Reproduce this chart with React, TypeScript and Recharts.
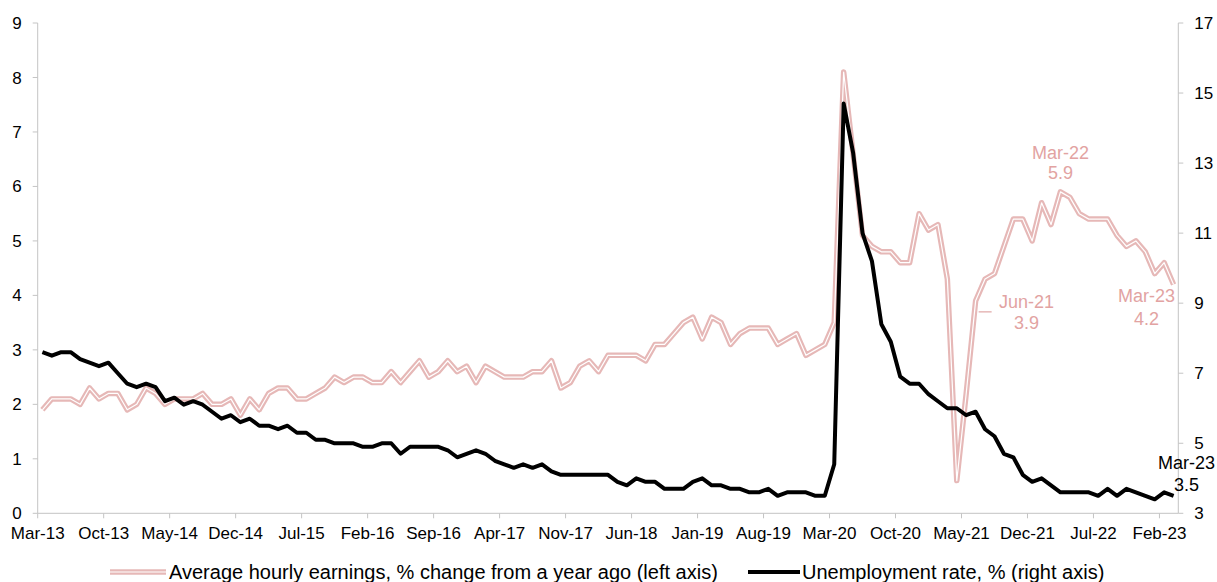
import React from 'react';
import { LineChart, Line, XAxis, YAxis, LabelList } from 'recharts';

const monthAbbr = ['Jan', 'Feb', 'Mar', 'Apr', 'May', 'Jun', 'Jul', 'Aug', 'Sep', 'Oct', 'Nov', 'Dec'];
// Monthly categories Mar-13 .. Mar-23
const months: string[] = [];
for (let y = 2013; y <= 2023; y++) {
  for (let m = 0; m < 12; m++) {
    if ((y === 2013 && m < 2) || (y === 2023 && m > 2)) continue;
    months.push(`${monthAbbr[m]}-${String(y).slice(2)}`);
  }
}

// Average hourly earnings, % change from a year ago (left axis)
const earnings: number[] = [
  1.9, 2.1, 2.1, 2.1, 2.0, 2.3, 2.1, 2.2, 2.2, 1.9, 2.0, 2.3,
  2.2, 2.0, 2.1, 2.1, 2.1, 2.2, 2.0, 2.0, 2.1, 1.8, 2.1, 1.9,
  2.2, 2.3, 2.3, 2.1, 2.1, 2.2, 2.3, 2.5, 2.4, 2.5, 2.5, 2.4,
  2.4, 2.6, 2.4, 2.6, 2.8, 2.5, 2.6, 2.8, 2.6, 2.7, 2.4, 2.7,
  2.6, 2.5, 2.5, 2.5, 2.6, 2.6, 2.8, 2.3, 2.4, 2.7, 2.8, 2.6,
  2.9, 2.9, 2.9, 2.9, 2.8, 3.1, 3.1, 3.3, 3.5, 3.6, 3.2, 3.6,
  3.5, 3.1, 3.3, 3.4, 3.4, 3.4, 3.1, 3.2, 3.3, 2.9, 3.0, 3.1,
  3.5, 8.1, 6.6, 5.1, 4.9, 4.8, 4.8, 4.6, 4.6, 5.5, 5.2, 5.3,
  4.3, 0.6, 2.2, 3.9, 4.3, 4.4, 4.9, 5.4, 5.4, 5.0, 5.7, 5.3,
  5.9, 5.8, 5.5, 5.4, 5.4, 5.4, 5.1, 4.9, 5.0, 4.8, 4.4, 4.6,
  4.2,
];

// Unemployment rate, % (right axis)
const unemployment: number[] = [
  7.6, 7.5, 7.6, 7.6, 7.4, 7.3, 7.2, 7.3, 7.0, 6.7, 6.6, 6.7,
  6.6, 6.2, 6.3, 6.1, 6.2, 6.1, 5.9, 5.7, 5.8, 5.6, 5.7, 5.5,
  5.5, 5.4, 5.5, 5.3, 5.3, 5.1, 5.1, 5.0, 5.0, 5.0, 4.9, 4.9,
  5.0, 5.0, 4.7, 4.9, 4.9, 4.9, 4.9, 4.8, 4.6, 4.7, 4.8, 4.7,
  4.5, 4.4, 4.3, 4.4, 4.3, 4.4, 4.2, 4.1, 4.1, 4.1, 4.1, 4.1,
  4.1, 3.9, 3.8, 4.0, 3.9, 3.9, 3.7, 3.7, 3.7, 3.9, 4.0, 3.8,
  3.8, 3.7, 3.7, 3.6, 3.6, 3.7, 3.5, 3.6, 3.6, 3.6, 3.5, 3.5,
  4.4, 14.7, 13.3, 11.0, 10.2, 8.4, 7.9, 6.9, 6.7, 6.7, 6.4, 6.2,
  6.0, 6.0, 5.8, 5.9, 5.4, 5.2, 4.7, 4.6, 4.1, 3.9, 4.0, 3.8,
  3.6, 3.6, 3.6, 3.6, 3.5, 3.7, 3.5, 3.7, 3.6, 3.5, 3.4, 3.6,
  3.5,
];

const xTickLabels: string[] = [
  'Mar-13', 'Oct-13', 'May-14', 'Dec-14', 'Jul-15', 'Feb-16', 'Sep-16', 'Apr-17', 'Nov-17',
  'Jun-18', 'Jan-19', 'Aug-19', 'Mar-20', 'Oct-20', 'May-21', 'Dec-21', 'Jul-22', 'Feb-23',
];
const leftTicks = [0, 1, 2, 3, 4, 5, 6, 7, 8, 9];
const rightTicks = [3, 5, 7, 9, 11, 13, 15, 17];

const pinkNoteMonths = ['Jun-21', 'Mar-22', 'Mar-23'];
const blackNoteMonths = ['Mar-23'];

const legendLabels = [
  'Average hourly earnings, % change from a year ago (left axis)',
  'Unemployment rate, % (right axis)',
];

const PINK = '#E6B8B7';
const PINK_TEXT = '#E2A3A2';
const AXIS = '#C4C4C4';
const FONT = '"Liberation Sans", Arial, sans-serif';

const data = months.map((m, i) => ({
  month: m,
  pos: i + 0.5,
  earnings: earnings[i],
  unemployment: unemployment[i],
}));

const xTickPos = xTickLabels.map((l) => months.indexOf(l));

const PinkNote = (props: any) => {
  const { x, y, index } = props;
  const d = data[index];
  if (!d || !pinkNoteMonths.includes(d.month)) return null;
  const val = d.earnings.toFixed(1);
  const common = { fontSize: 18, fill: PINK_TEXT, fontFamily: FONT, textAnchor: 'middle' as const, dominantBaseline: 'central' as const };
  if (d.month === 'Mar-22') {
    return (
      <g>
        <text x={x} y={y - 39} {...common}>{d.month}</text>
        <text x={x} y={y - 19} {...common}>{val}</text>
      </g>
    );
  }
  if (d.month === 'Jun-21') {
    return (
      <g>
        <line x1={x + 3} y1={y + 11} x2={x + 16} y2={y + 11} stroke={PINK} strokeWidth={1.5} />
        <text x={x + 51} y={y + 1} {...common}>{d.month}</text>
        <text x={x + 51} y={y + 22} {...common}>{val}</text>
      </g>
    );
  }
  return (
    <g>
      <text x={x - 27} y={y + 12} {...common}>{d.month}</text>
      <text x={x - 27} y={y + 35} {...common}>{val}</text>
    </g>
  );
};

const BlackNote = (props: any) => {
  const { x, y, index } = props;
  const d = data[index];
  if (!d || !blackNoteMonths.includes(d.month)) return null;
  const common = { fontSize: 18, fill: '#000', fontFamily: FONT, textAnchor: 'middle' as const, dominantBaseline: 'central' as const };
  return (
    <g>
      <text x={x + 13} y={y - 33} {...common}>{d.month}</text>
      <text x={x + 13} y={y - 11} {...common}>{d.unemployment.toFixed(1)}</text>
    </g>
  );
};

export default function App() {
  return (
    <div style={{ position: 'absolute', left: 0, top: 0, width: 1217, height: 582, background: '#fff', fontFamily: FONT }}>
      <LineChart
        width={1217}
        height={582}
        data={data}
        margin={{ top: 23, right: 0, left: 0, bottom: 0 }}
      >
        <XAxis
          dataKey="pos"
          type="number"
          domain={[0, months.length]}
          ticks={xTickPos}
          interval={0}
          tickFormatter={(v: number) => months[v]}
          height={68.7}
          tickSize={5}
          tickMargin={9}
          stroke={AXIS}
          tick={{ fontSize: 17, fill: '#000', fontFamily: FONT }}
          allowDecimals={false}
        />
        <YAxis
          yAxisId="left"
          orientation="left"
          domain={[0, 9]}
          ticks={leftTicks}
          interval={0}
          width={37.7}
          tickSize={5}
          tickMargin={11}
          stroke={AXIS}
          tick={{ fontSize: 17, fill: '#000', fontFamily: FONT }}
        />
        <YAxis
          yAxisId="right"
          orientation="right"
          domain={[3, 17]}
          ticks={rightTicks}
          interval={0}
          width={38.7}
          tickSize={5}
          tickMargin={11}
          stroke={AXIS}
          tick={{ fontSize: 17, fill: '#000', fontFamily: FONT, textAnchor: 'start' }}
        />
        <Line
          yAxisId="left"
          dataKey="earnings"
          stroke={PINK}
          strokeWidth={5.5}
          strokeLinejoin="round"
          dot={false}
          isAnimationActive={false}
        />
        <Line
          yAxisId="left"
          dataKey="earnings"
          stroke="#ffffff"
          strokeWidth={1.2}
          strokeLinejoin="round"
          dot={false}
          isAnimationActive={false}
        >
          <LabelList dataKey="earnings" content={PinkNote} />
        </Line>
        <Line
          yAxisId="right"
          dataKey="unemployment"
          stroke="#000"
          strokeWidth={4}
          strokeLinejoin="round"
          dot={false}
          isAnimationActive={false}
        >
          <LabelList dataKey="unemployment" content={BlackNote} />
        </Line>
      </LineChart>
      <svg width={1217} height={30} style={{ position: 'absolute', left: 0, top: 558 }}>
        <line x1={110} y1={14} x2={166} y2={14} stroke={PINK} strokeWidth={5.5} />
        <line x1={110} y1={14} x2={166} y2={14} stroke="#fff" strokeWidth={1.2} />
        <text x={169} y={14} fontSize={20} fontFamily={FONT} fill="#000" dominantBaseline="central">{legendLabels[0]}</text>
        <line x1={748} y1={14} x2={800} y2={14} stroke="#000" strokeWidth={4} />
        <text x={802} y={14} fontSize={20} fontFamily={FONT} fill="#000" dominantBaseline="central">{legendLabels[1]}</text>
      </svg>
    </div>
  );
}
